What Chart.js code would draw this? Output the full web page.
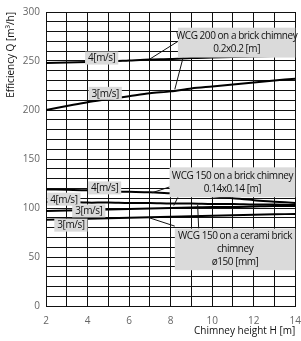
<!DOCTYPE html>
<html>
<head>
<meta charset="utf-8">
<script src="https://cdn.jsdelivr.net/npm/chart.js@4.4.1/dist/chart.umd.min.js"></script>
<style>
  html, body { margin: 0; padding: 0; background: #fff; overflow: hidden; }
  #wrap { width: 310px; height: 341px; }
</style>
</head>
<body>
<div id="wrap"><canvas id="chimneyChart" width="310" height="341"></canvas></div>
<script>
// Chimney height H [m]
const heights = [2, 3, 4, 5, 6, 7, 8, 9, 10, 11, 12, 13, 14];

// WCG 200 on a brick chimney 0.2x0.2 [m]
const wcg200Speed4 = [248, 248.5, 249, 249.5, 250.5, 251.5, 252, 253, 253.5, 254, 254.5, 255, 255.5];
const wcg200Speed3 = [200, 204, 208, 211, 214, 217, 219, 222, 224, 226, 228, 230, 232];

// WCG 150 on a brick chimney 0.14x0.14 [m]
const brick150Speed4 = [119, 118.5, 118, 117, 116.5, 116, 115, 114, 112, 110, 108, 106.5, 105];
const brick150Speed3 = [97, 97.5, 98, 98.5, 99, 99.5, 100, 100.5, 101, 101, 101.5, 102, 102];

// WCG 150 on a cerami brick chimney ø150 [mm]
const ceramic150Speed4 = [106, 106, 105.5, 105.5, 105, 105, 104.5, 104.5, 104, 104, 103.5, 103.5, 103];
const ceramic150Speed3 = [88, 88.5, 89, 89.5, 90, 90.5, 91, 91.5, 92, 92.5, 93, 93.5, 94];

const yTickLabels = [0, 50, 100, 150, 200, 250, 300];
const xTickLabels = [2, 4, 6, 8, 10, 12, 14];

// callouts and speed labels, placed in data units
const callouts = [
    { x0: 8.35, x1: 14, y0: 253.5, y1: 284, lines: ['WCG 200 on a brick chimney', '0.2x0.2 [m]'] },
    { x0: 7.95, x1: 14, y0: 111, y1: 141.5, lines: ['WCG 150 on a brick chimney', '0.14x0.14 [m]'] },
    { x0: 8.2, x1: 14, y0: 36.5, y1: 79, lines: ['WCG 150 on a cerami brick', 'chimney', 'ø150 [mm]'] }
];
const leaders = [
    [8.35, 270, 7.0, 252],
    [8.6, 253.5, 8.2, 221],
    [7.95, 121.5, 7.1, 115.5],
    [8.35, 111, 8.15, 102.5],
    [6.9, 90.5, 8.2, 81.5],
    [9.3, 103, 9.35, 79]
];
const speedLabels = [
    { x: 4.68, y: 253, text: '4[m/s]' },
    { x: 4.85, y: 217, text: '3[m/s]' },
    { x: 4.82, y: 120.5, text: '4[m/s]' },
    { x: 2.86, y: 109, text: '4[m/s]' },
    { x: 4.06, y: 97, text: '3[m/s]' },
    { x: 3.2, y: 82.5, text: '3[m/s]' }
];

function toPoints(values) {
    return heights.map((h, i) => ({ x: h, y: values[i] }));
}

const allSeries = [wcg200Speed4, wcg200Speed3, brick150Speed4, brick150Speed3, ceramic150Speed4, ceramic150Speed3];

const annotationPlugin = {
    id: 'calloutNotes',
    afterDatasetsDraw(chart) {
        const ctx = chart.ctx;
        const xs = chart.scales.x;
        const ys = chart.scales.y;
        ctx.save();

        // leader lines
        ctx.strokeStyle = '#111';
        ctx.lineWidth = 1;
        leaders.forEach(l => {
            ctx.beginPath();
            ctx.moveTo(xs.getPixelForValue(l[0]), ys.getPixelForValue(l[1]));
            ctx.lineTo(xs.getPixelForValue(l[2]), ys.getPixelForValue(l[3]));
            ctx.stroke();
        });

        ctx.font = '10px "Open Sans"';
        ctx.letterSpacing = '-0.45px';
        ctx.textAlign = 'center';
        ctx.textBaseline = 'middle';

        // big callout boxes
        callouts.forEach(c => {
            const left = xs.getPixelForValue(c.x0);
            const right = xs.getPixelForValue(c.x1);
            const top = ys.getPixelForValue(c.y1);
            const bottom = ys.getPixelForValue(c.y0);
            ctx.fillStyle = '#dadada';
            ctx.fillRect(left, top, right - left, bottom - top);
            ctx.fillStyle = '#111';
            const cx = (left + right) / 2;
            const step = 13;
            const first = (top + bottom) / 2 - (c.lines.length - 1) * step / 2;
            c.lines.forEach((t, i) => ctx.fillText(t, cx, first + i * step));
        });

        // speed labels
        speedLabels.forEach(s => {
            const cx = xs.getPixelForValue(s.x);
            const cy = ys.getPixelForValue(s.y);
            const w = ctx.measureText(s.text).width + 6;
            const h = 13;
            ctx.fillStyle = '#dadada';
            ctx.fillRect(cx - w / 2, cy - h / 2, w, h);
            ctx.fillStyle = '#111';
            ctx.fillText(s.text, cx, cy + 0.5);
        });
        ctx.restore();
    }
};

const ctx = document.getElementById('chimneyChart').getContext('2d');
const chimneyChart = new Chart(ctx, {
    type: 'line',
    data: {
        datasets: allSeries.map(values => ({
            data: toPoints(values),
            borderColor: '#000',
            borderWidth: 2,
            pointRadius: 0,
            tension: 0.3,
            fill: false
        }))
    },
    options: {
        responsive: false,
        animation: false,
        layout: { padding: { top: 9, right: 13, left: 2, bottom: 0 } },
        plugins: {
            legend: { display: false },
            tooltip: { enabled: false }
        },
        scales: {
            x: {
                type: 'linear',
                min: 2,
                max: 14,
                afterFit(scale) { scale.height = 35; },
                grid: { color: '#111', lineWidth: 1, drawTicks: false },
                border: { color: '#111', width: 1 },
                ticks: {
                    stepSize: 1,
                    autoSkip: false,
                    maxRotation: 0,
                    padding: 9,
                    color: '#666',
                    font: { family: 'Open Sans', size: 10 },
                    callback: v => xTickLabels.includes(v) ? String(v) : ''
                },
                title: {
                    display: true,
                    text: 'Chimney height H [m]',
                    align: 'end',
                    color: '#111',
                    font: { family: 'Open Sans', size: 10 },
                    padding: { top: 2, bottom: 4 }
                }
            },
            y: {
                min: 0,
                max: 300,
                afterFit(scale) { scale.width = 44; },
                grid: { color: '#111', lineWidth: 1, drawTicks: false },
                border: { color: '#111', width: 1 },
                ticks: {
                    stepSize: 10,
                    autoSkip: false,
                    padding: 6,
                    color: '#666',
                    font: { family: 'Open Sans', size: 10 },
                    callback: v => yTickLabels.includes(v) ? String(v) : ''
                },
                title: {
                    display: true,
                    text: 'Efficiency Q [m³/h]',
                    align: 'end',
                    color: '#111',
                    font: { family: 'Open Sans', size: 10 },
                    padding: { top: 3, bottom: 2 }
                }
            }
        }
    },
    plugins: [annotationPlugin]
});
</script>
</body>
</html>
